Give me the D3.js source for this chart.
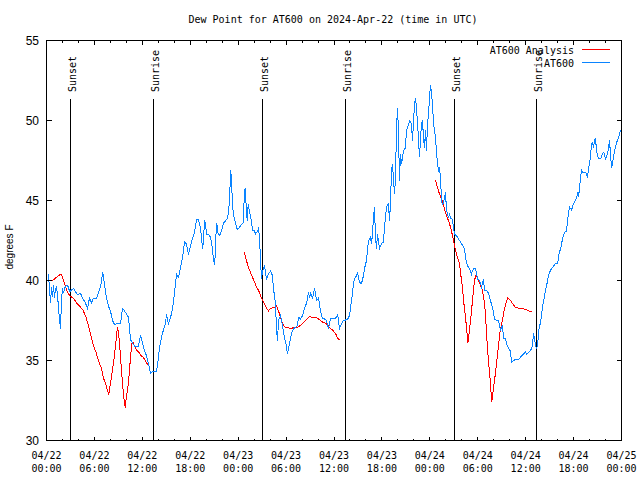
<!DOCTYPE html>
<html><head><meta charset="utf-8">
<script src="https://cdn.jsdelivr.net/npm/d3@7"></script>
<style>body{margin:0;background:#fff}svg{display:block}</style>
</head><body>
<script>
// ---- DATA (time in hours since 2024-04-22 00:00 UTC, dew point in °F) ----
const chartTitle = "Dew Point for AT600 on 2024-Apr-22 (time in UTC)";
const yAxisTitle = "degrees F";
const seriesNames = ["AT600 Analysis", "AT600"];

const obsHours = [0.25,0.50,0.63,0.75,0.88,1.00,1.13,1.25,1.38,1.50,1.63,1.75,1.88,2.00,2.13,2.25,2.50,2.75,2.88,3.13,3.38,3.63,3.88,4.26,4.51,4.88,5.13,5.38,5.63,5.89,6.26,6.51,6.76,6.89,7.05,7.26,7.51,7.76,8.01,8.26,8.51,8.77,9.27,9.52,9.77,10.02,10.27,10.39,10.52,10.77,11.02,11.52,11.77,12.02,12.27,12.52,12.77,13.02,13.27,13.77,13.90,14.15,14.52,14.90,15.02,15.27,15.65,15.89,16.15,16.28,16.53,16.78,17.03,17.28,17.53,17.78,18.03,18.28,18.53,18.78,19.03,19.28,19.45,19.57,19.70,19.82,20.07,20.29,20.54,20.79,20.91,21.07,21.20,21.32,21.45,21.70,21.95,22.20,22.45,22.69,22.88,23.00,23.08,23.17,23.29,23.42,23.67,23.88,24.13,24.38,24.63,24.76,24.88,25.01,25.13,25.26,25.38,25.51,25.67,25.80,26.05,26.17,26.42,26.55,26.67,26.80,26.92,27.05,27.30,27.55,27.80,28.05,28.30,28.42,28.68,28.80,28.93,29.05,29.30,29.55,29.80,30.05,30.17,30.43,30.68,30.93,31.18,31.43,31.56,31.81,32.06,32.31,32.56,32.81,32.93,33.06,33.31,33.43,33.56,33.68,33.81,34.06,34.31,34.56,34.81,35.06,35.31,35.56,36.06,36.31,36.44,36.56,36.69,36.94,37.19,37.69,37.94,38.07,38.32,38.44,38.57,38.82,38.94,39.19,39.44,39.69,39.82,40.07,40.19,40.32,40.57,40.69,40.82,40.94,41.07,41.19,41.32,41.44,41.69,41.94,42.19,42.32,42.57,42.82,42.95,43.07,43.20,43.32,43.44,43.57,43.70,43.82,43.95,44.07,44.20,44.32,44.45,44.57,44.70,44.95,45.07,45.32,45.45,45.70,45.82,45.95,46.08,46.20,46.33,46.45,46.58,46.70,46.83,46.95,47.08,47.21,47.33,47.46,47.58,47.71,47.83,47.96,48.08,48.21,48.33,48.46,48.58,48.71,48.83,48.96,49.09,49.21,49.34,49.46,49.59,49.71,49.84,49.96,50.09,50.21,50.34,50.46,50.59,50.71,50.84,50.96,51.09,51.34,51.59,51.84,52.09,52.34,52.47,52.72,52.97,53.22,53.34,53.47,53.72,53.97,54.22,54.47,54.72,54.84,55.09,55.34,55.59,55.85,56.10,56.35,56.60,56.85,57.10,57.22,57.47,57.60,57.85,58.10,58.23,58.48,58.73,58.98,59.23,59.48,59.73,59.98,60.10,60.35,60.60,60.85,60.98,61.10,61.23,61.35,61.48,61.61,61.73,61.86,61.98,62.11,62.23,62.36,62.48,62.61,62.73,62.86,62.98,63.24,63.49,63.74,63.99,64.11,64.24,64.36,64.61,64.86,65.11,65.36,65.49,65.74,65.99,66.24,66.49,66.62,66.74,66.99,67.12,67.37,67.62,67.74,67.87,68.12,68.24,68.37,68.49,68.62,68.75,68.87,69.12,69.37,69.62,69.74,69.87,69.99,70.25,70.37,70.50,70.62,70.75,70.87,71.00,71.12,71.37,71.62,71.87];
const obsValues = [40.4,38.6,39.6,39.0,39.7,38.9,39.5,39.6,39.1,38.3,37.6,37.0,38.75,39.5,39.2,39.5,39.7,39.6,39.3,39.4,39.5,39.3,39.1,39.2,38.9,38.6,38.25,38.9,38.6,38.9,38.9,39.25,39.6,40.0,40.5,39.8,38.9,38.4,38.1,37.5,37.25,37.3,37.3,38.25,38.1,37.9,37.7,37.0,36.3,36.1,35.9,35.9,36.6,36.1,35.6,35.3,34.8,34.2,34.3,34.3,34.7,35.8,36.7,37.3,37.9,37.3,37.9,38.6,39.8,40.4,40.2,40.8,41.4,42.4,42.3,41.6,42.2,42.6,43.0,43.8,43.8,43.3,42.4,42.0,43.0,43.75,42.9,42.9,42.7,42.0,41.25,41.0,42.7,43.6,43.0,42.8,43.2,43.6,43.75,43.9,44.8,46.1,46.9,46.1,44.8,44.06,43.6,43.2,43.3,43.5,43.6,45.2,45.8,44.6,43.75,44.8,44.4,44.06,43.75,43.1,43.1,42.9,43.1,43.25,42.7,41.25,40.1,40.6,40.9,40.1,40.4,40.6,40.3,39.5,38.56,36.9,36.25,37.5,37.8,37.2,36.4,35.9,35.4,36.06,36.7,37.0,37.06,37.2,37.7,37.6,37.8,38.3,38.56,39.25,38.9,39.2,38.9,39.2,39.5,39.2,38.75,38.9,38.1,37.6,37.6,37.5,37.0,37.6,37.6,37.7,37.9,37.5,37.0,37.3,37.5,37.56,37.8,38.3,39.2,39.8,40.1,40.3,40.5,39.9,39.8,40.3,40.75,41.25,41.9,42.5,42.7,42.3,42.9,43.9,44.6,42.7,42.0,42.9,42.0,42.3,42.4,43.3,44.6,44.8,43.75,44.8,46.9,47.3,46.4,45.4,46.4,49.4,50.75,49.4,46.25,47.9,47.3,47.6,48.1,48.3,49.4,49.7,50.0,49.8,48.75,49.8,51.06,51.4,50.8,49.8,48.9,47.7,48.75,49.8,50.0,48.9,48.3,49.4,48.1,49.8,50.4,51.4,52.2,51.7,51.06,49.8,49.4,48.9,48.1,47.3,46.9,47.06,46.4,45.0,44.7,44.9,45.2,45.5,44.4,44.2,43.9,44.2,43.9,43.9,43.75,43.3,42.9,42.8,42.6,42.4,42.2,42.0,41.4,40.9,40.75,40.4,40.6,40.75,40.75,40.1,40.0,39.6,40.1,39.4,39.4,39.2,38.75,38.3,37.6,37.5,37.5,36.9,37.2,36.4,36.4,36.06,35.75,35.6,34.9,35.0,35.06,35.06,35.1,35.3,35.4,35.56,35.4,35.5,35.6,35.9,36.7,36.4,35.9,35.8,35.9,36.7,37.2,37.3,37.9,38.25,38.75,38.9,39.5,39.6,40.0,40.3,40.5,40.75,40.9,41.06,41.06,41.4,41.9,41.9,42.6,43.0,43.1,44.2,44.6,44.4,44.8,45.0,45.4,45.2,45.8,46.9,46.75,46.75,46.7,46.4,47.0,47.7,48.56,48.6,48.3,48.75,48.9,48.1,47.6,47.6,47.9,48.0,47.9,47.6,47.9,48.3,48.75,47.9,47.06,47.3,47.7,48.1,48.6,48.9,49.4];

// analysis runs (three separate segments)
const analysis1Hours = [0.75,1.25,1.75,1.88,2.13,2.38,2.63,3.01,3.38,3.76,4.13,4.51,4.88,5.13,5.38,5.63,5.89,6.14,6.39,6.64,6.89,7.14,7.39,7.64,7.80,8.01,8.26,8.51,8.77,8.89,9.02,9.14,9.27,9.39,9.52,9.68,9.85,10.02,10.18,10.36,10.52,10.68,10.86,11.11,11.36,11.61,11.86,12.11,12.36,12.61,12.74];
const analysis1Values = [40.0,40.2,40.4,40.4,40.0,39.6,39.25,39.0,38.9,38.6,38.4,38.2,37.8,37.4,36.9,36.4,35.9,35.6,35.2,34.8,34.5,33.9,33.56,33.1,32.9,33.56,34.4,35.3,36.56,37.1,36.75,36.06,35.2,34.4,33.56,32.7,32.06,32.8,33.3,34.2,35.2,36.06,36.1,35.8,35.6,35.5,35.3,35.2,35.0,34.8,34.7];
const analysis2Hours = [24.79,25.04,25.29,25.54,25.80,26.05,26.30,26.55,26.80,27.05,27.30,27.55,27.80,28.05,28.30,28.55,28.80,29.05,29.30,29.55,29.80,30.14,30.55,31.05,31.56,32.06,32.56,32.93,33.31,33.68,34.06,34.56,35.06,35.44,35.81,36.19,36.44,36.69];
const analysis2Values = [41.75,41.25,40.8,40.5,40.2,39.9,39.56,39.4,39.06,38.75,38.56,38.25,38.1,38.25,38.3,38.3,38.4,38.1,37.7,37.3,37.1,37.06,37.0,37.06,37.1,37.3,37.56,37.75,37.7,37.7,37.6,37.4,37.3,37.06,36.9,36.7,36.4,36.3];
const analysis3Hours = [48.71,48.96,49.21,49.46,49.71,49.96,50.21,50.46,50.71,50.96,51.22,51.47,51.72,51.84,51.97,52.09,52.22,52.34,52.47,52.59,52.72,52.76,52.97,53.09,53.22,53.34,53.47,53.59,53.81,54.01,54.26,54.51,54.76,54.93,55.06,55.18,55.31,55.43,55.56,55.68,55.76,55.93,56.10,56.26,56.44,56.60,56.76,57.01,57.26,57.51,57.76,58.10,58.44,58.77,59.35,59.98,60.39,60.82];
const analysis3Values = [46.25,45.8,45.4,45.1,44.7,44.25,43.9,43.56,43.1,42.5,41.9,41.4,41.06,40.5,40.0,39.6,38.75,38.25,37.7,37.06,36.4,36.1,36.9,37.5,38.1,38.75,39.4,40.0,40.4,40.1,39.8,39.5,38.9,38.1,37.06,36.06,35.2,34.5,33.75,32.9,32.44,33.1,33.75,34.4,35.2,35.9,36.7,37.3,38.0,38.56,38.9,38.75,38.5,38.3,38.25,38.2,38.1,38.06];

const sunsetHours = [3.05, 27.08, 51.12];
const sunriseHours = [13.43, 37.40, 61.38];

const yTickValues = [30, 35, 40, 45, 50, 55];
const xMajorTickHours = [0, 6, 12, 18, 24, 30, 36, 42, 48, 54, 60, 66, 72];
const xTickDates = ["04/22","04/22","04/22","04/22","04/23","04/23","04/23","04/23","04/24","04/24","04/24","04/24","04/25"];
const xTickTimes = ["00:00","06:00","12:00","18:00","00:00","06:00","12:00","18:00","00:00","06:00","12:00","18:00","00:00"];

// ---- CHART ----
const W = 640, H = 480;
const L = 46.5, R = 621.5, T = 40.5, B = 440.5;
const mono = "'DejaVu Sans Mono', monospace";
const sans = "'Liberation Sans', Arial, sans-serif";
const blue = "#0a84ff", red = "#ff0000";

const svg = d3.select("body").append("svg").attr("width", W).attr("height", H)
  .style("background", "#fff");
svg.append("rect").attr("width", W).attr("height", H).attr("fill", "#fff");

const x = d3.scaleLinear().domain([0, 72]).range([L, R]);
const y = d3.scaleLinear().domain([30, 55]).range([B, T]);
const px = v => Math.round(x(v) - 0.5) + 0.5;

// sunrise / sunset markers
const marks = sunsetHours.map(h => ({h, label: "Sunset"}))
  .concat(sunriseHours.map(h => ({h, label: "Sunrise"})));
const mg = svg.append("g");
mg.selectAll("line").data(marks).join("line")
  .attr("x1", d => px(d.h)).attr("x2", d => px(d.h))
  .attr("y1", 99).attr("y2", B)
  .attr("stroke", "#000").attr("stroke-width", 1).attr("shape-rendering", "crispEdges");
mg.selectAll("text").data(marks).join("text")
  .attr("transform", d => `translate(${px(d.h) + 5},92) rotate(-90)`)
  .attr("font-family", mono).attr("font-size", 10).attr("fill", "#000")
  .text(d => d.label);

// series
const line = d3.line().x(d => x(d[0])).y(d => y(d[1]));
const analysis = [
  d3.zip(analysis1Hours, analysis1Values),
  d3.zip(analysis2Hours, analysis2Values),
  d3.zip(analysis3Hours, analysis3Values)
];
svg.append("g").selectAll("path").data(analysis).join("path")
  .attr("d", line).attr("fill", "none").attr("stroke", red).attr("stroke-width", 1)
  .attr("shape-rendering", "crispEdges");
svg.append("path").datum(d3.zip(obsHours, obsValues))
  .attr("d", line).attr("fill", "none").attr("stroke", blue).attr("stroke-width", 1)
  .attr("shape-rendering", "crispEdges");

// border
svg.append("rect").attr("x", L).attr("y", T).attr("width", R - L).attr("height", B - T)
  .attr("fill", "none").attr("stroke", "#000").attr("stroke-width", 1)
  .attr("shape-rendering", "crispEdges");

// x ticks (inward, mirrored)
const xMinor = d3.range(0, 73, 2).filter(h => h % 6 !== 0);
const tg = svg.append("g").attr("stroke", "#000").attr("stroke-width", 1).attr("shape-rendering", "crispEdges");
xMajorTickHours.forEach(h => {
  tg.append("line").attr("x1", px(h)).attr("x2", px(h)).attr("y1", B).attr("y2", B - 4);
  tg.append("line").attr("x1", px(h)).attr("x2", px(h)).attr("y1", T).attr("y2", T + 4);
});
xMinor.forEach(h => {
  tg.append("line").attr("x1", px(h)).attr("x2", px(h)).attr("y1", B).attr("y2", B - 2);
  tg.append("line").attr("x1", px(h)).attr("x2", px(h)).attr("y1", T).attr("y2", T + 2);
});
yTickValues.forEach(v => {
  const yy = Math.round(y(v) - 0.5) + 0.5;
  tg.append("line").attr("x1", L).attr("x2", L + 5).attr("y1", yy).attr("y2", yy);
  tg.append("line").attr("x1", R).attr("x2", R - 5).attr("y1", yy).attr("y2", yy);
});

// x tick labels
const xl = svg.append("g").attr("font-family", mono).attr("font-size", 10)
  .attr("fill", "#000").attr("text-anchor", "middle");
xMajorTickHours.forEach((h, i) => {
  xl.append("text").attr("x", x(h)).attr("y", 458.5).text(xTickDates[i]);
  xl.append("text").attr("x", x(h)).attr("y", 471.5).text(xTickTimes[i]);
});

// y tick labels
svg.append("g").selectAll("text").data(yTickValues).join("text")
  .attr("x", 39).attr("y", d => y(d)).attr("dy", "0.36em")
  .attr("text-anchor", "end").attr("font-family", sans).attr("font-size", 12)
  .attr("fill", "#000").text(d => d);

// y axis title
svg.append("text").attr("transform", "translate(13,247) rotate(-90)")
  .attr("text-anchor", "middle").attr("font-family", sans).attr("font-size", 10)
  .attr("fill", "#000").text(yAxisTitle);

// title
svg.append("text").attr("x", 333).attr("y", 23).attr("text-anchor", "middle")
  .attr("font-family", mono).attr("font-size", 10).attr("fill", "#000").text(chartTitle);

// legend
const legendColors = [red, blue];
seriesNames.forEach((name, i) => {
  const ly = 49.5 + i * 13;
  svg.append("text").attr("x", 574).attr("y", ly + 4).attr("text-anchor", "end")
    .attr("font-family", mono).attr("font-size", 10).attr("fill", "#000").text(name);
  svg.append("line").attr("x1", 582).attr("x2", 610).attr("y1", ly).attr("y2", ly)
    .attr("stroke", legendColors[i]).attr("stroke-width", 1).attr("shape-rendering", "crispEdges");
});
</script>
</body></html>
